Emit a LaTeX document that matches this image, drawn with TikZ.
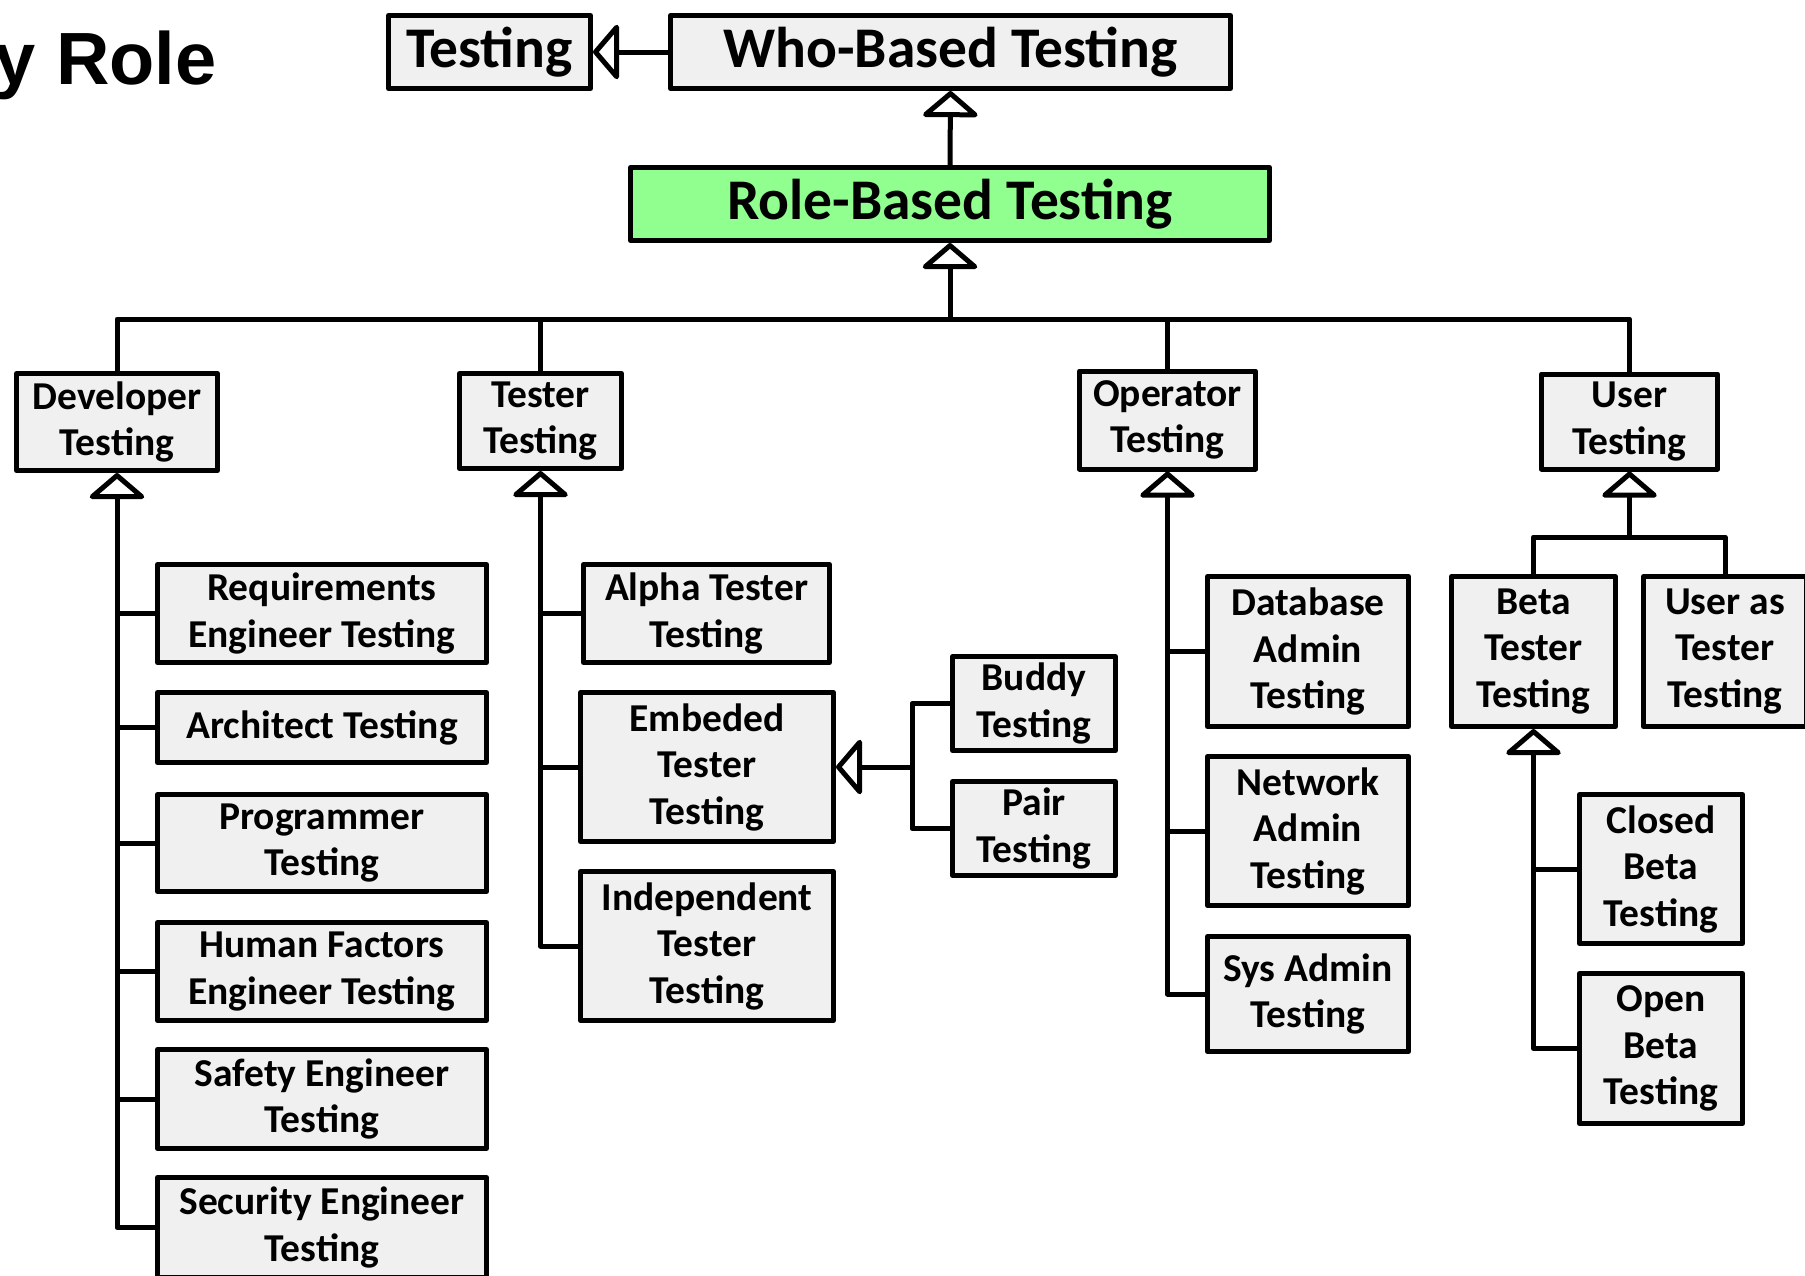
\documentclass[tikz,border=0pt]{standalone}
\usepackage{fontspec}
\setmainfont{Carlito}
\newfontfamily\titlefont{Liberation Sans}
\usetikzlibrary{arrows.meta}
\definecolor{boxgray}{RGB}{240,240,240}
\definecolor{rolegreen}{RGB}{144,255,144}
\begin{document}
\begin{tikzpicture}[x=1pt,y=-1pt,
 box/.style={draw=black, line width=5pt, fill=boxgray, align=center, inner sep=0pt, font=\fontsize{39.5}{46.5}\selectfont\bfseries, line join=round},
 bigbox/.style={box, font=\fontsize{57.5}{62}\selectfont\bfseries},
 sz/.style 2 args={minimum width=#1pt, minimum height=#2pt},
 conn/.style={line width=5pt, line join=round},
 gen/.style={conn, -{Triangle[open, round, length=27pt, width=62pt]}},
]
\useasboundingbox (0,0) rectangle (1805,1275);

\node[anchor=base west, inner sep=0pt, font=\titlefont\fontsize{74}{80}\selectfont\bfseries] (title) at (-5.5,84) {y Role};

\node[bigbox, sz={202}{73}] (testing) at (489.5,52) {Testing};
\node[bigbox, sz={560}{73}] (who) at (950.5,52) {Who-Based Testing};
\node[bigbox, fill=rolegreen, sz={639}{73}] (role) at (950,204) {Role-Based Testing};

\node[box, sz={201}{97}] (dev) at (117,422) {Developer\\Testing};
\node[box, sz={162}{95}] (tester) at (540.5,421) {Tester\\Testing};
\node[box, sz={176}{98}] (oper) at (1167.5,420) {Operator\\Testing};
\node[box, sz={176}{95}] (user) at (1629.5,421.5) {User\\Testing};

\node[box, sz={329}{98}] (req) at (322,613.5) {Requirements\\Engineer Testing};
\node[box, sz={329}{70}] (arch) at (322,727.5) {Architect Testing};
\node[box, sz={329}{97}] (prog) at (322,843) {Programmer\\Testing};
\node[box, sz={329}{98}] (hf) at (322,971.5) {Human Factors\\Engineer Testing};
\node[box, sz={329}{99}] (safety) at (322,1099) {Safety Engineer\\Testing};
\node[box, sz={329}{100}] (sec) at (322,1227.5) {Security Engineer\\Testing};

\node[box, sz={246}{98}] (alpha) at (706.5,613.5) {Alpha Tester\\Testing};
\node[box, sz={253}{149}] (emb) at (707,767) {Embeded\\Tester\\Testing};
\node[box, sz={253}{149}] (indep) at (707,946) {Independent\\Tester\\Testing};

\node[box, sz={163}{94}] (buddy) at (1034,703.5) {Buddy\\Testing};
\node[box, sz={163}{94}] (pair) at (1034,828.5) {Pair\\Testing};

\node[box, sz={201}{150}] (db) at (1308,651.5) {Database\\Admin\\Testing};
\node[box, sz={201}{149}] (net) at (1308,831) {Network\\Admin\\Testing};
\node[box, sz={201}{115}] (sys) at (1308,994) {Sys Admin\\Testing};

\node[box, sz={164}{150}] (beta) at (1533.5,651.5) {Beta\\Tester\\Testing};
\node[box, sz={163}{150}] (uat) at (1725,651.5) {User as\\Tester\\Testing};
\node[box, sz={163}{149}] (closed) at (1661,869) {Closed\\Beta\\Testing};
\node[box, sz={163}{150}] (open) at (1661,1048.5) {Open\\Beta\\Testing};

% top connectors
\draw[gen] (who.west) -- (testing.east);
\draw[gen] (role.north) -- (who.south);
\coordinate (rb) at (950,319);
\draw[gen] (rb) -- (role.south);
\draw[conn] (dev.north) -- (dev.north |- rb) -- (user.north |- rb) -- (user.north);
\draw[conn] (tester.north) -- (tester.north |- rb);
\draw[conn] (oper.north) -- (oper.north |- rb);

% developer
\draw[gen] (sec.west) -| (dev.south);
\foreach \n in {req,arch,prog,hf,safety} \draw[conn] (\n.west) -- (\n.west -| dev.south);

% tester
\draw[gen] (indep.west) -| (tester.south);
\foreach \n in {alpha,emb} \draw[conn] (\n.west) -- (\n.west -| tester.south);
\coordinate (bp) at (912,767);
\draw[conn] (buddy.west) -| (bp) |- (pair.west);
\draw[gen] (bp) -- (emb.east);

% operator
\draw[gen] (sys.west) -| (oper.south);
\foreach \n in {db,net} \draw[conn] (\n.west) -- (\n.west -| oper.south);

% user
\coordinate (ub) at (1629.5,537);
\draw[conn] (beta.north) |- (ub) -| (uat.north);
\draw[gen] (ub) -- (user.south);
\draw[gen] (open.west) -| (beta.south);
\draw[conn] (closed.west) -- (closed.west -| beta.south);
\end{tikzpicture}
\end{document}
